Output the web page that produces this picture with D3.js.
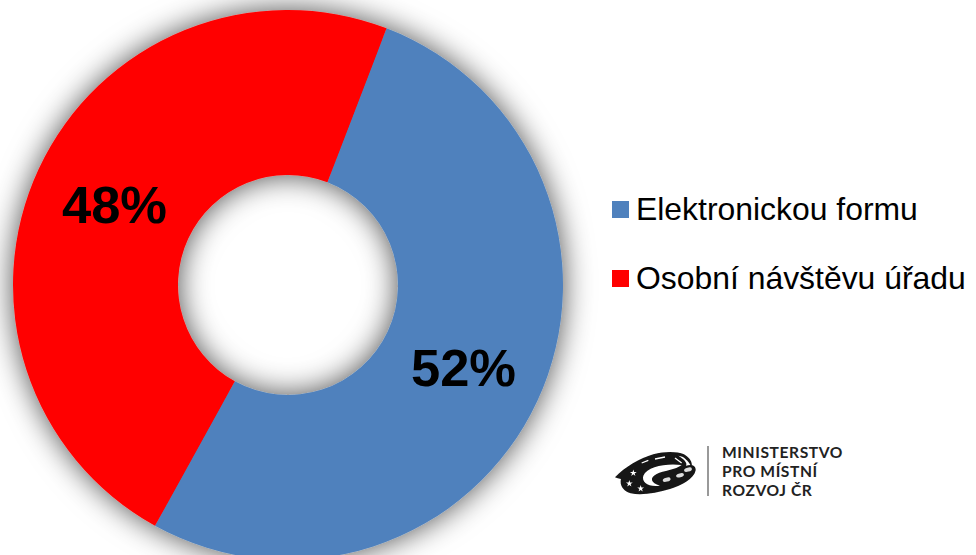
<!DOCTYPE html>
<html>
<head>
<meta charset="utf-8">
<script src="https://cdnjs.cloudflare.com/ajax/libs/d3/7.8.5/d3.min.js"></script>
<style>
  html, body { margin: 0; padding: 0; background: #fff; }
  svg { display: block; }
  text { font-family: "Liberation Sans", Arial, sans-serif; fill: #000; }
</style>
</head>
<body>
<svg id="chart" width="976" height="555"></svg>
<script>
const categories = ["Elektronickou formu", "Osobní návštěvu úřadu"];
const values = [52.2, 47.8];
const colors = ["#4f81bd", "#ff0000"];
const logoLines = ["MINISTERSTVO", "PRO MÍSTNÍ", "ROZVOJ ČR"];

const width = 976, height = 555;
const cx = 288, cy = 285, outer = 275, inner = 110;
const startAngle = 21 * Math.PI / 180;

const svg = d3.select("#chart").attr("viewBox", [0, 0, width, height]);

const defs = svg.append("defs");
const shadow = defs.append("filter").attr("id", "shadow")
    .attr("x", "-20%").attr("y", "-20%").attr("width", "140%").attr("height", "140%");
shadow.append("feDropShadow")
    .attr("dx", 0).attr("dy", 0)
    .attr("stdDeviation", 15)
    .attr("flood-color", "#000")
    .attr("flood-opacity", 0.7);
const soft = defs.append("filter").attr("id", "soft");
soft.append("feGaussianBlur").attr("stdDeviation", 0.35);

const pie = d3.pie().sort(null)
    .startAngle(startAngle)
    .endAngle(startAngle + 2 * Math.PI);
const arc = d3.arc().innerRadius(inner).outerRadius(outer);

const slices = pie(values);

svg.append("g")
    .attr("transform", `translate(${cx},${cy})`)
    .attr("filter", "url(#shadow)")
  .selectAll("path")
  .data(slices)
  .join("path")
    .attr("d", arc)
    .attr("fill", (d, i) => colors[i]);

svg.append("g")
    .attr("transform", `translate(${cx + 1},${cy + 1})`)
  .selectAll("text")
  .data(slices)
  .join("text")
    .attr("x", d => arc.centroid(d)[0])
    .attr("y", d => arc.centroid(d)[1])
    .attr("text-anchor", "middle")
    .attr("dy", "0.35em")
    .style("font-size", "52.5px")
    .style("font-weight", "bold")
    .text((d, i) => Math.round(values[i]) + "%");

// legend
const legendY = d3.scalePoint().domain(categories).range([209, 278]);
const legend = svg.append("g").selectAll("g")
  .data(categories)
  .join("g")
    .attr("transform", d => `translate(612,${legendY(d)})`);
legend.append("rect")
    .attr("x", 0).attr("y", -8)
    .attr("width", 17).attr("height", 17)
    .attr("fill", (d, i) => colors[i]);
legend.append("text")
    .attr("x", 24).attr("y", 11)
    .style("font-size", "31.9px")
    .text(d => d);

const logo = svg.append("g").attr("transform", "translate(610,443) scale(0.3333)")
    .attr("filter", "url(#soft)");
logo.append("path")
    .attr("fill", "#141414")
    .attr("d", "M15,103 C45,72 90,46 130,34 C165,25 200,25 222,34 C240,45 248,58 245,72 C234,52 222,40 205,38 C225,50 232,60 228,68 C246,62 258,68 257,82 C252,108 215,128 180,138 C140,150 95,158 62,151 C40,145 28,126 33,108 C26,107 20,105 15,103 Z");
logo.append("path")
    .attr("fill", "#fff")
    .attr("d", "M215,66 C170,60 112,70 100,98 C94,118 115,133 150,128 C122,120 118,104 140,93 C160,83 198,80 215,66 Z");
logo.append("g")
    .attr("fill", "none").attr("stroke", "#fff").attr("stroke-width", 4)
  .selectAll("line")
  .data([[95, 60, 115, 52], [135, 48, 165, 42], [195, 45, 215, 60]])
  .join("line")
    .attr("x1", d => d[0]).attr("y1", d => d[1])
    .attr("x2", d => d[2]).attr("y2", d => d[3]);
logo.append("g").attr("fill", "#fff").selectAll("path")
  .data([[70, 90], [58, 122], [92, 137]])
  .join("path")
    .attr("transform", d => `translate(${d[0]},${d[1]})`)
    .attr("d", d3.symbol(d3.symbolStar, 130));
logo.append("g").attr("fill", "#ddd").selectAll("ellipse")
  .data([[170, 110], [210, 97], [234, 80]])
  .join("ellipse")
    .attr("cx", d => d[0]).attr("cy", d => d[1])
    .attr("rx", 12).attr("ry", 6)
    .attr("transform", d => `rotate(-15,${d[0]},${d[1]})`);
svg.append("line")
    .attr("x1", 708).attr("x2", 708).attr("y1", 446).attr("y2", 496)
    .attr("stroke", "#777").attr("stroke-width", 1.5);
svg.append("g").selectAll("text")
  .data(logoLines)
  .join("text")
    .attr("x", 722)
    .attr("y", (d, i) => 458 + i * 19)
    .style("font-family", "Lato, sans-serif")
    .style("font-size", "15.6px")
    .style("font-weight", "700")
    .style("letter-spacing", "0.6px")
    .style("fill", "#222")
    .text(d => d);
</script>
</body>
</html>
